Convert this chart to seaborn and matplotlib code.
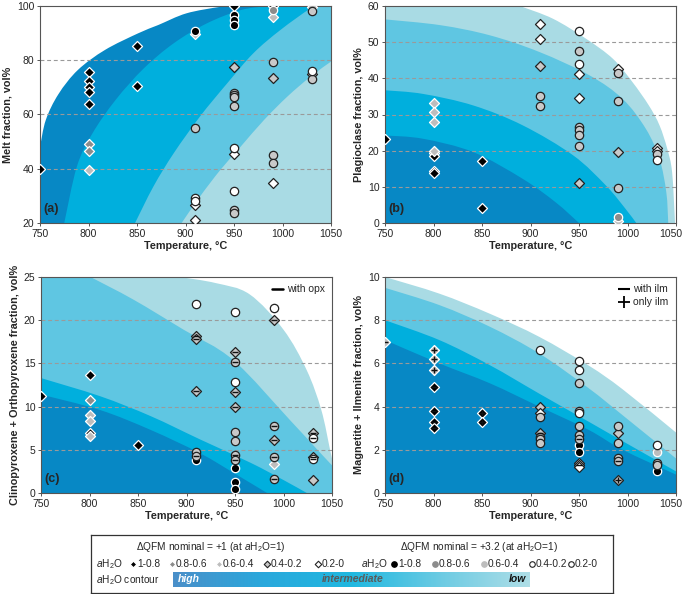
import numpy as np
import pandas as pd
import matplotlib
matplotlib.use("Agg")
import matplotlib.pyplot as plt
import matplotlib.transforms as mtransforms
import seaborn as sns
from matplotlib.lines import Line2D
from matplotlib.path import Path
from matplotlib.patches import PathPatch
from matplotlib.colors import LinearSegmentedColormap

sns.set_style("white")
plt.rcParams["font.family"] = ["Liberation Sans", "DejaVu Sans"]
plt.rcParams["mathtext.fontset"] = "custom"
plt.rcParams["mathtext.rm"] = "Liberation Sans"
plt.rcParams["mathtext.it"] = "Liberation Sans:italic"
plt.rcParams["mathtext.bf"] = "Liberation Sans:bold"

# ---------------- data (T in °C, value in vol%) ----------------
# class: 0: aH2O 1-0.8, 1: 0.8-0.6, 2: 0.6-0.4, 3: 0.4-0.2, 4: 0.2-0
# shape: 'D' = dQFM +1, 'o' = dQFM +3.2
a_T = [750, 800, 800, 800, 800, 800, 800, 800, 800, 850, 850, 910, 950, 950, 950, 910, 910, 990, 990, 990, 990, 1030, 1030,
       910, 950, 950, 950, 990, 1030, 950, 950, 950, 950, 950, 950, 950, 950, 910, 910, 910, 990, 990, 990, 1030, 1030]
a_V = [39.9, 75.8, 72.4, 70.1, 68.2, 63.8, 49.2, 46.4, 39.5, 85.3, 70.6, 89.8, 100, 77.4, 45.5, 26.5, 21.2, 100, 96.1, 73.6, 34.6, 99.8, 75.0,
       90.8, 96.7, 94.8, 93.0, 98.5, 98.2, 68.1, 67.2, 66.4, 63.1, 47.6, 31.7, 24.7, 23.7, 55.2, 29.2, 28.2, 79.3, 45.0, 42.3, 76.2, 73.1]
a_shape = ["D"] * 23 + ["o"] * 22
a_cls = [0, 0, 0, 0, 0, 0, 1, 1, 2, 0, 0, 2, 0, 3, 4, 4, 4, 0, 2, 3, 4, 2, 4,
         0, 0, 0, 0, 1, 3, 3, 3, 3, 3, 4, 4, 3, 3, 3, 4, 4, 3, 3, 3, 4, 3]

b_T = [750, 800, 800, 800, 800, 800, 800, 800, 800, 850, 850, 910, 910, 910, 950, 950, 950, 990, 990, 990, 1030, 1030,
       910, 910, 950, 950, 950, 950, 950, 950, 950, 990, 990, 990, 990, 1030, 1030]
b_V = [23.1, 33.1, 30.8, 27.9, 19.8, 19.3, 18.4, 14.3, 13.8, 17.1, 4.1, 54.9, 50.9, 43.5, 41.3, 34.6, 11.1, 42.5, 19.6, 0.6, 20.7, 19.9,
       35.0, 32.4, 53.0, 47.5, 44.0, 26.5, 25.8, 24.2, 21.4, 41.6, 33.6, 9.7, 1.6, 19.1, 17.5]
b_shape = ["D"] * 22 + ["o"] * 15
b_cls = [0, 2, 2, 2, 2, 0, 0, 0, 0, 0, 0, 4, 4, 3, 4, 4, 3, 4, 3, 2, 4, 4,
         3, 3, 4, 3, 4, 3, 3, 3, 3, 3, 3, 3, 1, 3, 4]

c_T = [750, 800, 800, 800, 800, 800, 800, 850, 910, 910, 910, 950, 950, 950, 990, 990, 990, 1030, 1030, 1030,
       910, 910, 910, 910, 950, 950, 950, 950, 950, 950, 950, 950, 950, 950, 990, 990, 990, 990, 1030, 1030]
c_V = [11.2, 13.6, 10.8, 9.0, 8.3, 6.9, 6.6, 5.5, 18.2, 17.8, 11.8, 16.3, 11.7, 10.0, 20.0, 6.1, 3.3, 6.9, 4.2, 1.5,
       21.9, 4.8, 4.3, 3.8, 20.9, 15.2, 12.9, 7.1, 6.0, 4.4, 3.8, 2.9, 1.3, 0.5, 21.4, 7.7, 4.2, 1.6, 6.4, 3.9]
c_shape = ["D"] * 20 + ["o"] * 20
c_cls = [0, 0, 1, 2, 2, 0, 2, 0, 3, 3, 3, 3, 3, 3, 3, 3, 2, 3, 3, 3,
         4, 3, 3, 0, 4, 3, 4, 3, 3, 3, 3, 0, 0, 0, 4, 3, 3, 3, 4, 4]

d_T = [750, 800, 800, 800, 800, 800, 800, 800, 850, 850, 910, 910, 910, 950, 950, 950, 990, 990,
       910, 910, 910, 910, 910, 950, 950, 950, 950, 950, 950, 950, 950, 950, 950, 990, 990, 990, 990,
       1030, 1030, 1030, 1030, 1030]
d_V = [7.0, 6.6, 6.2, 5.7, 4.9, 3.8, 3.3, 3.0, 3.7, 3.3, 4.0, 3.7, 2.8, 1.4, 1.3, 1.2, 2.8, 0.6,
       6.6, 3.5, 2.6, 2.5, 2.3, 6.1, 5.7, 5.1, 3.8, 3.7, 3.1, 2.7, 2.5, 2.2, 1.9, 3.1, 2.3, 1.6, 1.5,
       2.2, 1.9, 1.4, 1.3, 1.0]
d_shape = ["D"] * 18 + ["o"] * 24
d_cls = [2, 2, 2, 2, 0, 0, 0, 0, 0, 0, 3, 4, 3, 4, 4, 4, 3, 3,
         4, 3, 3, 3, 3, 4, 4, 3, 3, 4, 3, 3, 3, 0, 0, 3, 3, 3, 3,
         4, 2, 3, 3, 0]

# phase overlay symbols ('_' = with opx / with ilm, '+' = only ilm)
c_mark_T = [910, 910, 910, 950, 950, 950, 990, 990, 1030, 1030, 910, 950, 950, 950, 990, 990, 990, 1030, 1030]
c_mark_V = [18.2, 17.8, 11.8, 16.3, 11.7, 10.0, 20.0, 6.1, 6.9, 4.2, 4.3, 15.2, 4.4, 3.8, 7.7, 4.2, 1.6, 6.4, 3.9]
c_mark_sym = ["_"] * 19
d_mark_T = [750, 800, 800, 800, 800, 910, 950, 800, 800, 800, 850, 850, 990, 950, 990]
d_mark_V = [7.0, 4.9, 3.8, 3.3, 3.0, 2.8, 2.5, 6.6, 6.2, 5.7, 3.7, 3.3, 0.6, 1.3, 1.5]
d_mark_sym = ["_"] * 7 + ["+"] * 6 + ["_", "_"]

# contour band boundaries (T, value)
a1_T = [750, 756, 769, 789, 817, 851, 872, 901, 936, 950]
a1_V = [48, 58, 67.5, 76.4, 83.8, 89.9, 93, 97.3, 99.7, 100]
a2_T = [775, 788, 804, 828, 857, 888, 922, 957, 985]
a2_V = [20, 40.8, 53, 65.4, 77, 86.3, 93.6, 98.5, 100]
a3_T = [848, 867, 888, 915, 943, 970, 998, 1029, 1040]
a3_V = [20, 33.5, 45.8, 59.3, 71.5, 82.6, 91.2, 99.1, 100]
a4_T = [896, 915, 936, 957, 981, 1005, 1029, 1050]
a4_V = [20, 29.8, 39.6, 48.2, 58, 66.6, 74, 79.5]

b1_T = [889, 923, 957, 985, 1005, 1022, 1033, 1041, 1046, 1049]
b1_V = [60, 56.5, 51, 45.4, 39, 32.5, 27, 20.5, 14, 0]
b2_T = [750, 807, 858, 909, 961, 995, 1019, 1033, 1040, 1042]
b2_V = [56.3, 54.7, 51.9, 47.3, 40.8, 34.3, 26, 17.7, 8.5, 0]
b3_T = [750, 789, 841, 892, 944, 978, 998, 1009]
b3_V = [36.7, 35.7, 32.5, 27, 18.7, 10.3, 3.9, 0]
b4_T = [750, 789, 841, 892, 926, 950]
b4_V = [24.2, 23.3, 19.6, 12.2, 5.7, 0]

c1_T = [893, 930, 965, 1000, 1024, 1039, 1048, 1050]
c1_V = [25, 24.3, 23, 18.9, 14.2, 9.6, 5, 4]
c2_T = [801, 845, 897, 948, 1007, 1035, 1050]
c2_V = [25, 22.4, 18.9, 15.4, 8.4, 5, 3.2]
c3_T = [750, 811, 863, 914, 966, 1000, 1024]
c3_V = [13.3, 11.2, 8.9, 6.2, 3.5, 1.5, 0]
c4_T = [750, 811, 863, 914, 949, 983]
c4_V = [11.4, 9.6, 7.3, 4.6, 2.3, 0]

d_bT = [750, 806, 858, 909, 960, 995, 1050]
d1_V = [10, 9.23, 8.3, 7.23, 5.9, 4.8, 2.8]
d2_V = [9.5, 8.7, 7.7, 6.46, 4.85, 3.6, 1.6]
d3_V = [8, 7.08, 5.92, 4.6, 3.3, 2.4, 1.0]
d4_V = [7.08, 6.0, 5.08, 4.0, 2.92, 2.0, 0.85]

x_ticks = [750, 800, 850, 900, 950, 1000, 1050]

# ---------------- styles ----------------
C_DARK = "#0788c5"
C_CYAN = "#00afdd"
C_MED = "#5fc6e2"
C_LIGHT = "#a9dbe4"
FILL = ["#000000", "#8c8c8c", "#bdbdbd", "#c9c9c9", "#ffffff"]
EDGE = ["#ffffff", "#ffffff", "#ffffff", "#222222", "#222222"]
SIZE = {"D": 26, "o": 36}

W, H = 685, 594
fig = plt.figure(figsize=(W / 100, H / 100), dpi=100)


def axes_px(l, t, r, b):
    return fig.add_axes([l / W, 1 - b / H, (r - l) / W, (b - t) / H])


def band(ax, cx, cy, ex, ey, color):
    """Smooth (Catmull-Rom as Bezier) boundary through the read points, closed by straight corners."""
    P = np.column_stack([cx, cy]).astype(float)
    n = len(P)
    verts = [P[0]]
    codes = [Path.MOVETO]
    for i in range(n - 1):
        p0 = P[i - 1] if i > 0 else P[i]
        p1, p2 = P[i], P[i + 1]
        p3 = P[i + 2] if i + 2 < n else P[i + 1]
        verts += [p1 + (p2 - p0) / 6.0, p2 - (p3 - p1) / 6.0, p2]
        codes += [Path.CURVE4] * 3
    for x, y in zip(ex, ey):
        verts.append((x, y))
        codes.append(Path.LINETO)
    verts.append(P[0])
    codes.append(Path.CLOSEPOLY)
    ax.add_patch(PathPatch(Path(verts, codes), facecolor=color, lw=0, zorder=0))


def draw_points(ax, T, V, shp, cls):
    df = pd.DataFrame(dict(T=T, V=V, shp=shp, cls=cls))
    for s in ["D", "o"]:
        for c in range(5):
            sub = df[(df.shp == s) & (df.cls == c)]
            if len(sub):
                sns.scatterplot(data=sub, x="T", y="V", marker=s, s=SIZE[s],
                                color=FILL[c], edgecolor=EDGE[c], linewidth=0.9,
                                ax=ax, legend=False, zorder=3)


def draw_marks(ax, T, V, sym):
    for t, v, m in zip(T, V, sym):
        ax.plot([t], [v], marker=m, color="#111111", markersize=5, mew=1.0,
                linestyle="none", zorder=4)


def style_axes(ax, ylim, yticks, ylabel, letter):
    ax.set_xlim(750, 1050)
    ax.set_ylim(*ylim)
    ax.set_xticks(x_ticks)
    ax.set_yticks(yticks)
    for y in yticks[1:-1]:
        ax.axhline(y, color="#9a9a9a", lw=0.8, ls=(0, (3.5, 2.5)), zorder=1)
    for sp in ax.spines.values():
        sp.set_color("#555555")
        sp.set_linewidth(0.8)
    ax.tick_params(axis="both", labelsize=7.5, length=2.5, width=0.7,
                   color="#555555", pad=1.5, direction="out",
                   bottom=True, left=True)
    ax.set_xlabel("Temperature, °C", fontsize=7.8, fontweight="bold", labelpad=2)
    ax.set_ylabel(ylabel, fontsize=7.8, fontweight="bold", labelpad=3)
    ax.text(0.012, 0.035, letter, transform=ax.transAxes, fontsize=9,
            fontweight="bold", ha="left", va="bottom", zorder=5)


def nudge_last_xlabel(ax, dx_pt=-4):
    lab = ax.get_xticklabels()[-1]
    lab.set_transform(lab.get_transform() +
                      mtransforms.ScaledTranslation(dx_pt / 72, 0, fig.dpi_scale_trans))


# ---------------- panel a ----------------
ax = axes_px(40, 6, 331, 223)
band(ax, a1_T, a1_V, [1050, 1050, 750], [100, 20, 20], C_DARK)
band(ax, a2_T, a2_V, [1050, 1050], [100, 20], C_CYAN)
band(ax, a3_T, a3_V, [1050, 1050], [100, 20], C_MED)
band(ax, a4_T, a4_V, [1050], [20], C_LIGHT)
draw_points(ax, a_T, a_V, a_shape, a_cls)
style_axes(ax, (20, 100), [20, 40, 60, 80, 100], "Melt fraction, vol%", "(a)")

# ---------------- panel b ----------------
ax = axes_px(385, 6, 676, 223)
band(ax, b1_T, b1_V, [750, 750], [0, 60], C_LIGHT)
band(ax, b2_T, b2_V, [750], [0], C_MED)
band(ax, b3_T, b3_V, [750], [0], C_CYAN)
band(ax, b4_T, b4_V, [750], [0], C_DARK)
draw_points(ax, b_T, b_V, b_shape, b_cls)
style_axes(ax, (0, 60), [0, 10, 20, 30, 40, 50, 60], "Plagioclase fraction, vol%", "(b)")
nudge_last_xlabel(ax)

# ---------------- panel c ----------------
ax = axes_px(41, 277, 332, 493)
band(ax, c1_T, c1_V, [1050, 750, 750], [0, 0, 25], C_LIGHT)
band(ax, c2_T, c2_V, [1050, 750, 750], [0, 0, 25], C_MED)
band(ax, c3_T, c3_V, [750], [0], C_CYAN)
band(ax, c4_T, c4_V, [750], [0], C_DARK)
draw_points(ax, c_T, c_V, c_shape, c_cls)
draw_marks(ax, c_mark_T, c_mark_V, c_mark_sym)
style_axes(ax, (0, 25), [0, 5, 10, 15, 20, 25],
           "Clinopyroxene + Orthopyroxene fraction, vol%", "(c)")
ax.legend(handles=[Line2D([], [], color="black", lw=1.8)], labels=["with opx"],
          loc="upper right", frameon=False, fontsize=7.5, handlelength=1.0,
          handletextpad=0.4, borderaxespad=0.3)

# ---------------- panel d ----------------
ax = axes_px(385, 277, 676, 493)
band(ax, d_bT, d1_V, [1050, 750], [0, 0], C_LIGHT)
band(ax, d_bT, d2_V, [1050, 750], [0, 0], C_MED)
band(ax, d_bT, d3_V, [1050, 750], [0, 0], C_CYAN)
band(ax, d_bT, d4_V, [1050, 750], [0, 0], C_DARK)
draw_points(ax, d_T, d_V, d_shape, d_cls)
draw_marks(ax, d_mark_T, d_mark_V, d_mark_sym)
style_axes(ax, (0, 10), [0, 2, 4, 6, 8, 10], "Magnetite + Ilmenite fraction, vol%", "(d)")
nudge_last_xlabel(ax)
ax.legend(handles=[Line2D([], [], color="black", marker="_", ms=9, mew=1.5, ls="none"),
                   Line2D([], [], color="black", marker="+", ms=9, mew=1.3, ls="none")],
          labels=["with ilm", "only ilm"], loc="upper right", frameon=False,
          fontsize=7.5, handlelength=1.0, handletextpad=0.4, borderaxespad=0.3,
          labelspacing=0.3)

# ---------------- legend box ----------------
L, R, T0, B0 = 91, 613, 535, 593
lax = axes_px(L, T0, R, B0)
lax.set_xticks([])
lax.set_yticks([])
for sp in lax.spines.values():
    sp.set_color("#333333")
    sp.set_linewidth(0.9)

fs = 7.3
aw = r"$a$H$_2$O"
leg_labels = ["1-0.8", "0.8-0.6", "0.6-0.4", "0.4-0.2", "0.2-0"]
dia_x = [133, 172, 219, 267, 318]
cir_x = [394, 435, 484, 532, 571]

grad = LinearSegmentedColormap.from_list(
    "contour", ["#4a8fc9", "#2aa8dc", "#20b8e0", "#6ccbe3", "#aedee7"])
lax.imshow(np.linspace(0, 1, 256)[None, :], cmap=grad, aspect="auto",
           extent=[173, 530, 587, 572], zorder=1)
lax.set_xlim(L, R)
lax.set_ylim(B0, T0)

lax.text(211, 547, r"ΔQFM nominal = +1 (at $a$H$_2$O=1)", ha="center", va="center", fontsize=fs)
lax.text(479, 547, r"ΔQFM nominal = +3.2 (at $a$H$_2$O=1)", ha="center", va="center", fontsize=fs)
lax.text(96, 564, aw, ha="left", va="center", fontsize=fs)
lax.text(361, 564, aw, ha="left", va="center", fontsize=fs)
lax.text(96, 580, aw + " contour", ha="left", va="center", fontsize=fs)
for i in range(5):
    lax.scatter([dia_x[i]], [564], marker="D", s=11, color=FILL[i],
                edgecolors="#222222" if i >= 3 else "#ffffff",
                linewidths=0.8, zorder=3)
    lax.text(dia_x[i] + 4, 564, leg_labels[i], ha="left", va="center", fontsize=fs)
    lax.scatter([cir_x[i]], [564], marker="o", s=16, color=FILL[i] if i < 3 else "white",
                edgecolors="#222222" if i >= 3 else FILL[i], linewidths=0.8, zorder=3)
    lax.text(cir_x[i] + 4, 564, leg_labels[i], ha="left", va="center", fontsize=fs)

lax.text(178, 579.5, "high", ha="left", va="center", fontsize=7.5,
         fontweight="bold", style="italic", color="white", zorder=2)
lax.text(353, 579.5, "intermediate", ha="center", va="center", fontsize=7.5,
         fontweight="bold", style="italic", color="#5a5a5a", zorder=2)
lax.text(526, 579.5, "low", ha="right", va="center", fontsize=7.5,
         fontweight="bold", style="italic", color="#111111", zorder=2)

fig.savefig("out.png", dpi=100)
